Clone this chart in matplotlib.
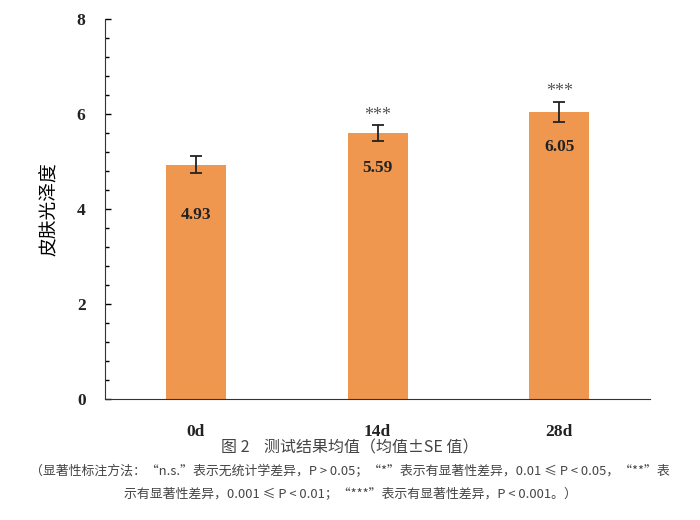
import numpy as np
import matplotlib.pyplot as plt

days = ["0d", "14d", "28d"]
means = [4.93, 5.59, 6.05]
se = [0.18, 0.17, 0.21]
sig = ["", "***", "***"]
label_drop = [1.05, 0.73, 0.75]

serif = ["Liberation Serif", "DejaVu Serif"]
cjk = ["Noto Sans CJK SC", "DejaVu Sans"]

fig = plt.figure(figsize=(7, 5.2), dpi=100)
ax = fig.add_axes([0.15, 0.233, 0.779, 0.7305])

x = np.arange(len(days))
ax.bar(x, means, width=0.33, color="#F0974F", zorder=2)
ax.errorbar(x, means, yerr=se, fmt="none", ecolor="#222222", elinewidth=1.3,
            capsize=4, capthick=1.3, zorder=3)

for i in range(len(days)):
    ax.text(x[i], means[i] - label_drop[i], f"{means[i]:.2f}", ha="center", va="center",
            fontsize=12.5, fontweight="bold", family=serif, color="#222222", zorder=4)
    if sig[i]:
        ax.text(x[i], means[i] + se[i] + 0.03, sig[i], ha="center", va="bottom",
                fontsize=13, family=serif, color="#555555", zorder=4)

ax.set_xlim(-0.5, 2.5)
ax.set_ylim(0, 8)
ax.set_yticks([0, 2, 4, 6, 8])
ax.set_yticks(np.arange(0, 8.01, 0.4), minor=True)
ax.set_xticks(x)
ax.set_xticklabels(days)
for lab in ax.get_xticklabels() + ax.get_yticklabels():
    lab.set_family(serif)
    lab.set_fontweight("bold")
    lab.set_fontsize(12.5)
    lab.set_color("#222222")

ax.tick_params(axis="y", which="major", direction="in", length=4, width=1, pad=14)
ax.tick_params(axis="y", which="minor", direction="in", length=3, width=1)
ax.tick_params(axis="x", which="both", length=0, pad=18)
ax.spines["top"].set_visible(False)
ax.spines["right"].set_visible(False)
ax.spines["left"].set_color("#333333")
ax.spines["bottom"].set_color("#333333")

ax.set_ylabel("皮肤光泽度", family=cjk, fontsize=13.5, labelpad=12)

fig.text(0.5, 0.138, "图 2    测试结果均值（均值±SE 值）", ha="center", va="center",
         family=cjk, fontsize=11.5, color="#444444")
fig.text(0.5, 0.094,
         "（显著性标注方法：“n.s.”表示无统计学差异，P > 0.05；“*”表示有显著性差异，0.01 ≤ P < 0.05，“**”表",
         ha="center", va="center", family=cjk, fontsize=9.3, color="#444444")
fig.text(0.5, 0.05,
         "示有显著性差异，0.001 ≤ P < 0.01；“***”表示有显著性差异，P < 0.001。）",
         ha="center", va="center", family=cjk, fontsize=9.3, color="#444444")

fig.savefig("out.png", dpi=100)
